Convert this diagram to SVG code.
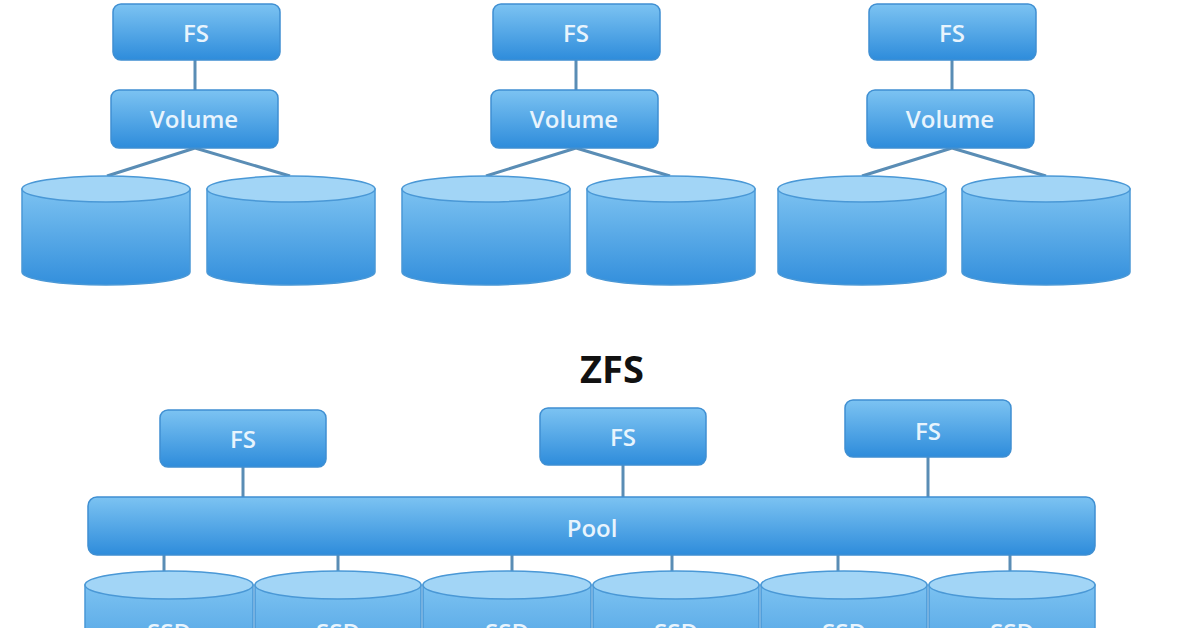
<svg xmlns="http://www.w3.org/2000/svg" width="1196" height="628" viewBox="0 0 1196 628">
<defs>
<linearGradient id="g" x1="0" y1="0" x2="0" y2="1"><stop offset="0" stop-color="#7cc3f2"/><stop offset="1" stop-color="#2e8cdb"/></linearGradient>
<linearGradient id="c" x1="0" y1="0" x2="0" y2="1"><stop offset="0" stop-color="#7cc2f1"/><stop offset="1" stop-color="#338fdc"/></linearGradient>
</defs>
<style>
.b{fill:url(#g);stroke:#3f8fd2;stroke-width:1.5}
.t{font-family:"Open Sans","Liberation Sans",sans-serif;font-size:24px;font-weight:600;fill:#e8f4fd;text-anchor:middle}
.cb{fill:url(#c);stroke:#4a98d6;stroke-width:1.5}
.ct{fill:#a2d5f6;stroke:#4a98d6;stroke-width:1.5}
.l{stroke:#5a8db5;stroke-width:3;fill:none}
</style>
<rect width="1196" height="628" fill="#fff"/>
<g id="connectors">
<path class="l" d="M195 60V90M195 148L107 176M195 148L290 176"/>
<path class="l" d="M576 60V90M576 148L486 176M576 148L670 176"/>
<path class="l" d="M952 60V90M952 148L862 176M952 148L1046 176"/>
<path class="l" d="M243 467V497M623 465V497M928 457V497"/>
<path class="l" d="M164 555V585M338 555V585M512 555V585M672 555V585M838 555V585M1010 555V585"/>
</g>
<g id="top1">
<g id="fs1"><rect class="b" x="113" y="4" width="167" height="56" rx="8"/><text class="t" x="196" y="42">FS</text></g>
<g id="vol1"><rect class="b" x="111" y="90" width="167" height="58" rx="8"/><text class="t" x="194" y="128">Volume</text></g>
<g id="d1"><path class="cb" d="M22 189V272A84 13 0 0 0 190 272V189Z"/><ellipse class="ct" cx="106" cy="189" rx="84" ry="13"/></g>
<g id="d2"><path class="cb" d="M207 189V272A84 13 0 0 0 375 272V189Z"/><ellipse class="ct" cx="291" cy="189" rx="84" ry="13"/></g>
</g>
<g id="top2">
<g id="fs2"><rect class="b" x="493" y="4" width="167" height="56" rx="8"/><text class="t" x="576" y="42">FS</text></g>
<g id="vol2"><rect class="b" x="491" y="90" width="167" height="58" rx="8"/><text class="t" x="574" y="128">Volume</text></g>
<g id="d3"><path class="cb" d="M402 189V272A84 13 0 0 0 570 272V189Z"/><ellipse class="ct" cx="486" cy="189" rx="84" ry="13"/></g>
<g id="d4"><path class="cb" d="M587 189V272A84 13 0 0 0 755 272V189Z"/><ellipse class="ct" cx="671" cy="189" rx="84" ry="13"/></g>
</g>
<g id="top3">
<g id="fs3"><rect class="b" x="869" y="4" width="167" height="56" rx="8"/><text class="t" x="952" y="42">FS</text></g>
<g id="vol3"><rect class="b" x="867" y="90" width="167" height="58" rx="8"/><text class="t" x="950" y="128">Volume</text></g>
<g id="d5"><path class="cb" d="M778 189V272A84 13 0 0 0 946 272V189Z"/><ellipse class="ct" cx="862" cy="189" rx="84" ry="13"/></g>
<g id="d6"><path class="cb" d="M962 189V272A84 13 0 0 0 1130 272V189Z"/><ellipse class="ct" cx="1046" cy="189" rx="84" ry="13"/></g>
</g>
<text x="612" y="383" font-family="'Open Sans','Liberation Sans',sans-serif" font-size="38" font-weight="bold" text-anchor="middle" fill="#111">ZFS</text>
<g id="zfs1"><rect class="b" x="160" y="410" width="166" height="57" rx="8"/><text class="t" x="243" y="448">FS</text></g>
<g id="zfs2"><rect class="b" x="540" y="408" width="166" height="57" rx="8"/><text class="t" x="623" y="446">FS</text></g>
<g id="zfs3"><rect class="b" x="845" y="400" width="166" height="57" rx="8"/><text class="t" x="928" y="440">FS</text></g>
<g id="pool"><rect class="b" x="88" y="497" width="1007" height="58" rx="9"/><text class="t" x="592" y="537">Pool</text></g>
<g id="ssd1"><path class="cb" d="M85 585V700H253V585Z"/><ellipse class="ct" cx="169" cy="585" rx="84" ry="14"/><text class="t" x="169" y="641">SSD</text></g>
<g id="ssd2"><path class="cb" d="M255 585V700H421V585Z"/><ellipse class="ct" cx="338" cy="585" rx="83" ry="14"/><text class="t" x="338" y="641">SSD</text></g>
<g id="ssd3"><path class="cb" d="M423 585V700H591V585Z"/><ellipse class="ct" cx="507" cy="585" rx="84" ry="14"/><text class="t" x="507" y="641">SSD</text></g>
<g id="ssd4"><path class="cb" d="M593 585V700H759V585Z"/><ellipse class="ct" cx="676" cy="585" rx="83" ry="14"/><text class="t" x="676" y="641">SSD</text></g>
<g id="ssd5"><path class="cb" d="M761 585V700H927V585Z"/><ellipse class="ct" cx="844" cy="585" rx="83" ry="14"/><text class="t" x="844" y="641">SSD</text></g>
<g id="ssd6"><path class="cb" d="M929 585V700H1095V585Z"/><ellipse class="ct" cx="1012" cy="585" rx="83" ry="14"/><text class="t" x="1012" y="641">SSD</text></g>
</svg>
